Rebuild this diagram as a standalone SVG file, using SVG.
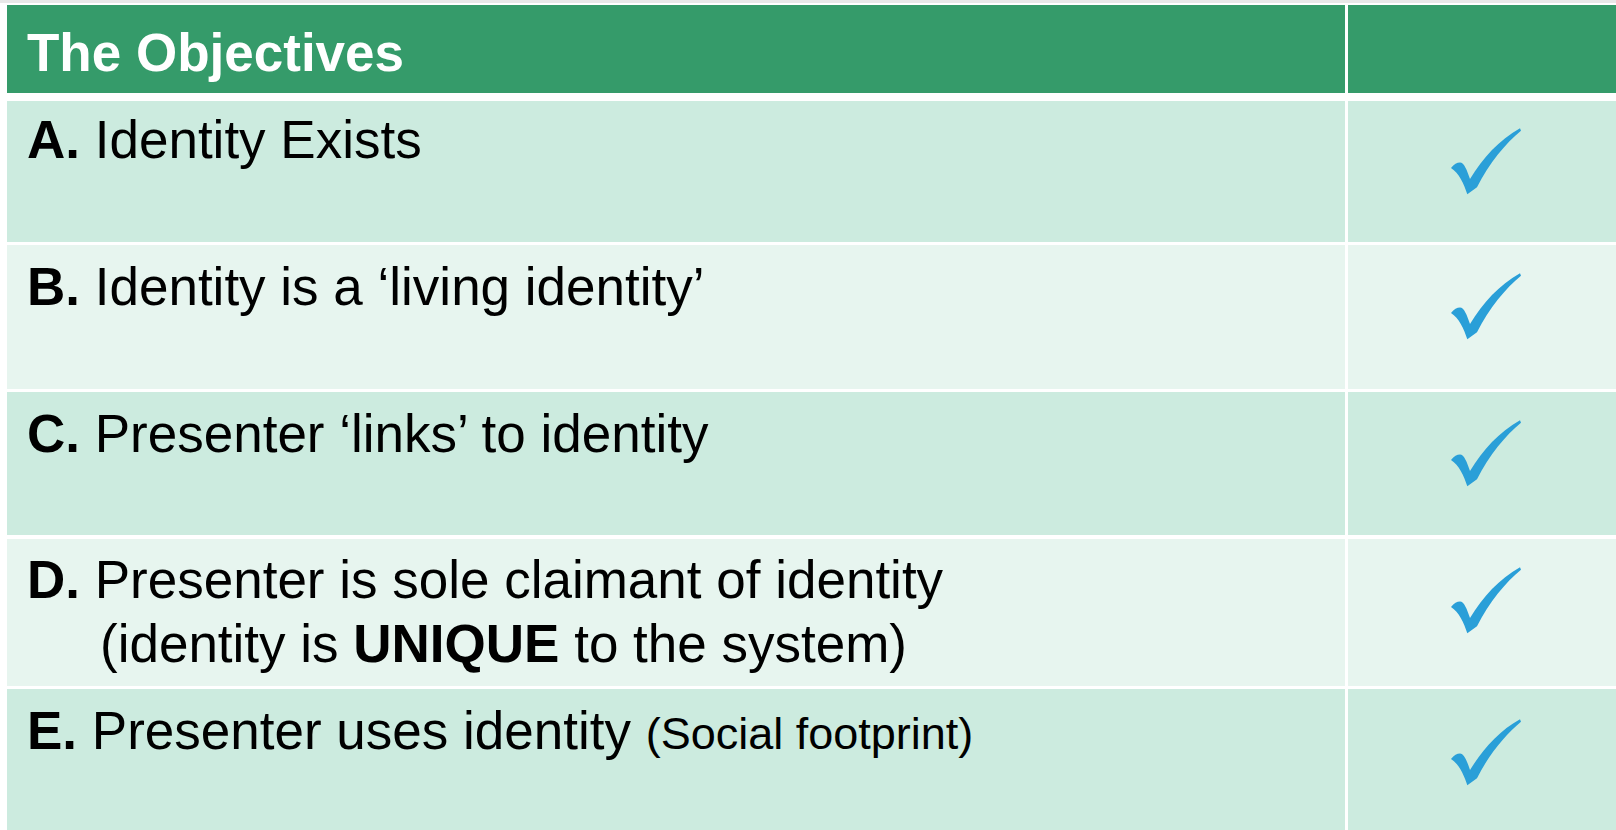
<svg xmlns="http://www.w3.org/2000/svg" xmlns:xlink="http://www.w3.org/1999/xlink" width="1616" height="830" viewBox="0 0 1616 830">
<style>
  .hdr { fill: #359B6A; }
  .odd { fill: #CCEBDF; }
  .even { fill: #E7F5EF; }
  .txt { font-family: "Liberation Sans", Arial, sans-serif; font-size: 53px; fill: #000; }
  .b { font-weight: bold; }
  .htxt { font-family: "Liberation Sans", Arial, sans-serif; font-size: 53px; font-weight: bold; fill: #fff; }
  .small { font-size: 45px; }
  .chk { fill: #2A9FD8; }
</style>
<defs>
  <path id="check" d="M0,40 C3,36 6,34.5 9,34.5 C13,34.5 16,42 19,51 C32,30 48,12 69,0.3 L70,2.7 C55,15 38,35 26,59.3 L16.3,66.3 C13,56 8,45 0,40 Z"/>
</defs>
<rect x="0" y="0" width="1616" height="830" fill="#ffffff"/>
<rect x="0" y="0" width="1616" height="3" fill="#e8e8e8"/>
<g id="header">
  <rect class="hdr" x="7" y="5" width="1338" height="88"/>
  <rect class="hdr" x="1348" y="5" width="268" height="88"/>
  <text class="htxt" x="27" y="71">The Objectives</text>
</g>
<g id="rowA">
  <rect class="odd" x="7" y="101" width="1338" height="141"/>
  <rect class="odd" x="1348" y="101" width="268" height="141"/>
  <text class="txt" x="27" y="158"><tspan class="b">A.</tspan> Identity Exists</text>
  <use xlink:href="#check" class="chk" x="1451" y="128"/>
</g>
<g id="rowB">
  <rect class="even" x="7" y="245" width="1338" height="144"/>
  <rect class="even" x="1348" y="245" width="268" height="144"/>
  <text class="txt" x="27" y="305"><tspan class="b">B.</tspan> Identity is a ‘living identity’</text>
  <use xlink:href="#check" class="chk" x="1451" y="273"/>
</g>
<g id="rowC">
  <rect class="odd" x="7" y="392" width="1338" height="143"/>
  <rect class="odd" x="1348" y="392" width="268" height="143"/>
  <text class="txt" x="27" y="452"><tspan class="b">C.</tspan> Presenter ‘links’ to identity</text>
  <use xlink:href="#check" class="chk" x="1451" y="420"/>
</g>
<g id="rowD">
  <rect class="even" x="7" y="539" width="1338" height="147"/>
  <rect class="even" x="1348" y="539" width="268" height="147"/>
  <text class="txt" x="27" y="598"><tspan class="b">D.</tspan> Presenter is sole claimant of identity</text>
  <text class="txt" x="100" y="662">(identity is <tspan class="b">UNIQUE</tspan> to the system)</text>
  <use xlink:href="#check" class="chk" x="1451" y="567"/>
</g>
<g id="rowE">
  <rect class="odd" x="7" y="689" width="1338" height="141"/>
  <rect class="odd" x="1348" y="689" width="268" height="141"/>
  <text class="txt" x="27" y="749"><tspan class="b">E.</tspan> Presenter uses identity <tspan class="small">(Social footprint)</tspan></text>
  <use xlink:href="#check" class="chk" x="1451" y="719"/>
</g>
<g id="connectors"></g>
</svg>
